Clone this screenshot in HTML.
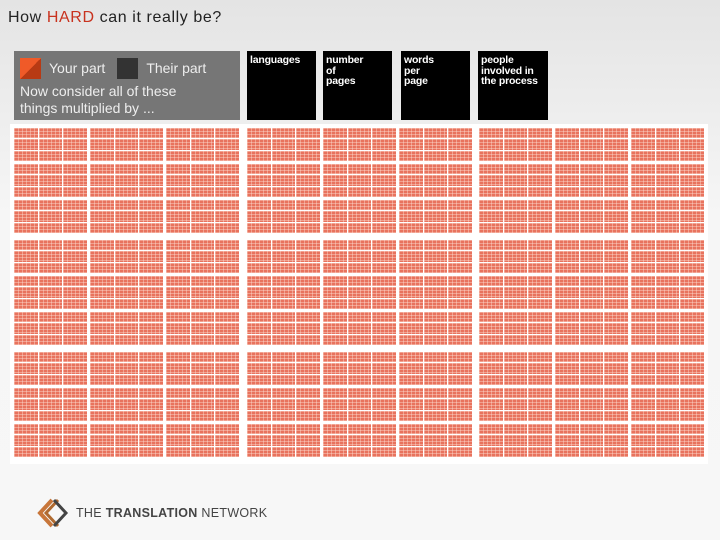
<!DOCTYPE html>
<html><head><meta charset="utf-8"><style>
body{margin:0;width:720px;height:540px;overflow:hidden;background:linear-gradient(#e4e4e4,#f6f6f6 40%,#f7f7f7);font-family:"Liberation Sans",sans-serif;position:relative}
.abs{position:absolute}
#title{left:8px;top:9px;font-size:16px;color:#222;letter-spacing:0.6px}
#title span{color:#c8321e}
.hb{position:absolute;top:51px;height:69px;background:#000;color:#fff;font-size:10.5px;font-weight:bold;line-height:10.5px;padding:4px 3px;box-sizing:border-box;letter-spacing:-0.2px}
#legend{left:14px;top:51px;width:226px;height:69px;background:#767676;color:#eee;font-size:14px;box-sizing:border-box;padding:6px}
.cell{position:absolute;background-color:#e8735e;
background-image:linear-gradient(90deg,rgba(255,230,220,.4) 1px,transparent 1px),linear-gradient(rgba(255,230,220,.4) 1px,transparent 1px);
background-size:4px 3px;}
#grid{left:10px;top:124px;width:698px;height:340px;background:#fff}
</style></head><body>
<div id="title" class="abs">How <span>HARD</span> can it really be?</div>
<div id="legend" class="abs">
<div style="display:flex;align-items:center;height:22px">
<div style="width:21px;height:21px;background:linear-gradient(135deg,#f05a28 50%,#b83a14 50%)"></div>
<span style="margin:0 12px 0 8px">Your part</span>
<div style="width:21px;height:21px;background:#333"></div>
<span style="margin-left:8px">Their part</span></div>
<div style="margin-top:4px;line-height:17px">Now consider all of these<br>things multiplied by ...</div>
</div>
<div class="hb" style="left:247px;width:69px">languages</div>
<div class="hb" style="left:323px;width:69px">number<br>of<br>pages</div>
<div class="hb" style="left:401px;width:69px">words<br>per<br>page</div>
<div class="hb" style="left:478px;width:70px">people<br>involved in<br>the process</div>
<div id="grid" class="abs"></div>
<div class="abs" style="left:36px;top:497px">
<svg width="36" height="32" viewBox="0 0 36 32"><path d="M16 3 L4 16 L16 29" stroke="#c8763a" stroke-width="4" fill="none"/><path d="M22 3 L10 16 L22 29" stroke="#b06a30" stroke-width="3" fill="none"/><path d="M18 3 L30 16 L18 29" stroke="#444" stroke-width="3" fill="none"/></svg></div>
<div class="abs" style="left:76px;top:506px;font-size:12.5px;color:#444;letter-spacing:0.3px">THE <b>TRANSLATION</b> NETWORK</div>
<script>
const bigCols=[14,247,479], bigRows=[128,240,352];
const subCols=3, subRows=3, innerCols=3, innerRows=3;
const subW=74, subH=34, gap=2;
const frag=document.createDocumentFragment();
bigRows.forEach((by,bi)=>bigCols.forEach((bx,bj)=>{
 for(let r=0;r<subRows;r++)for(let c=0;c<subCols;c++){
  const x=bx+c*(subW+2), y=by+r*(subH+2);
  const iw=subW/innerCols, ih=subH/innerRows;
  for(let ir=0;ir<innerRows;ir++)for(let ic=0;ic<innerCols;ic++){
   const d=document.createElement('div');
   d.className='cell';
   
   
   d.style.left=(x+ic*iw)+'px';d.style.top=(y+ir*ih)+'px';
   d.style.width=(iw-1)+'px';d.style.height=(ih-1)+'px';
   frag.appendChild(d);
  }
 }
}));
document.body.appendChild(frag);
</script>
</body></html>
